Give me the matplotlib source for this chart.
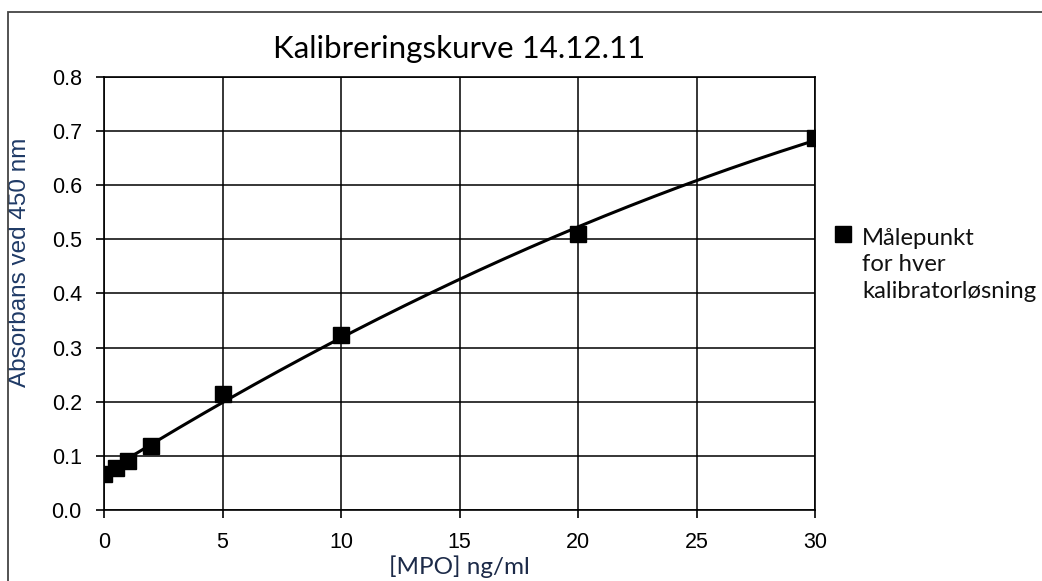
import numpy as np
import matplotlib
matplotlib.use("Agg")
import matplotlib.pyplot as plt
from matplotlib.patches import Rectangle

# calibration points
conc = [0, 0.5, 1, 2, 5, 10, 20, 30]
absorb = [0.066, 0.077, 0.091, 0.119, 0.214, 0.324, 0.509, 0.688]

xticks = [0, 5, 10, 15, 20, 25, 30]
yticks = [0.0, 0.1, 0.2, 0.3, 0.4, 0.5, 0.6, 0.7, 0.8]

fig = plt.figure(figsize=(10.42, 5.81), dpi=100)
ax = fig.add_axes([0.0998, 0.1222, 0.6824, 0.7453])

# frame around the chart (only top/left visible)
fig.patches.append(Rectangle((8 / 1042, -0.1), 1.2, 1 - 12 / 581 + 0.1,
                             transform=fig.transFigure, fill=False,
                             edgecolor="#444444", linewidth=1.3))

# 2nd order trendline through the points
coef = np.polyfit(conc, absorb, 2)
xs = np.linspace(0, 30, 200)
ax.plot(xs, np.polyval(coef, xs), color="black", linewidth=2.2, zorder=3)
ax.plot(conc, absorb, linestyle="none", marker="s", markersize=11.5,
        color="black", zorder=4)

ax.set_xlim(0, 30)
ax.set_ylim(0, 0.8)
ax.set_xticks(xticks)
ax.set_yticks(yticks)
ax.set_xticklabels([str(t) for t in xticks], family="Liberation Sans", fontsize=15.5)
ax.set_yticklabels(["%.1f" % t for t in yticks], family="Liberation Sans", fontsize=15.5)
ax.tick_params(direction="out", length=6, width=1.2, pad=10, colors="black")
ax.grid(True, color="black", linewidth=1.1)
for s in ax.spines.values():
    s.set_color("black")
    s.set_linewidth(1.2)

ax.set_title("Kalibreringskurve 14.12.11", family="Lato", fontsize=22.5, pad=14)
ax.set_xlabel("[MPO] ng/ml", family="Lato", fontsize=17.5, color="#1c2a48", va="center")
ax.xaxis.set_label_coords(0.5, -0.132)
ax.set_ylabel("Absorbans ved 450 nm", family="Liberation Sans", fontsize=17.5,
              color="#1f3a66", va="center")
ax.yaxis.set_label_coords(-0.118, 0.573)

# legend entry to the right
fig.lines.append(plt.Line2D([843 / 1042], [1 - 234 / 581], marker="s", markersize=11.5,
                            color="black", linestyle="none", transform=fig.transFigure))
fig.text(862 / 1042, 1 - 228 / 581, "Målepunkt\nfor hver\nkalibratorløsning",
         family="Lato", fontsize=17.2, color="#111111", va="top", ha="left",
         linespacing=1.32)

fig.savefig("out.png", dpi=100)
